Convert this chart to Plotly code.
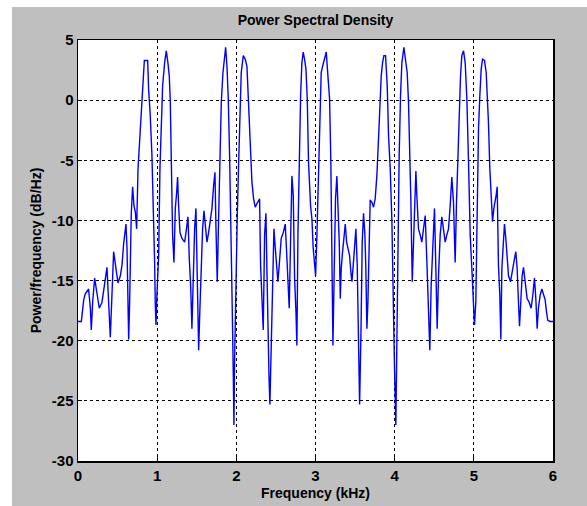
import plotly.graph_objects as go

freq_khz = [
    0.000, 0.042, 0.072, 0.092, 0.134, 0.156, 0.168, 0.185, 0.210, 0.240, 0.269, 0.303, 0.337, 0.366,
    0.387, 0.408, 0.429, 0.450, 0.480, 0.505, 0.535, 0.556, 0.577, 0.606, 0.619, 0.640, 0.652, 0.673,
    0.690, 0.707, 0.724, 0.741, 0.758, 0.774, 0.791, 0.808, 0.825, 0.838, 0.863, 0.880, 0.892, 0.913,
    0.934, 0.955, 0.968, 0.976, 0.985,
    0.997, 1.019, 1.035, 1.052, 1.069, 1.094, 1.115, 1.136, 1.153, 1.166, 1.178, 1.195, 1.212, 1.229,
    1.246, 1.258, 1.271, 1.288, 1.313, 1.347, 1.368, 1.389, 1.406, 1.423, 1.439, 1.456, 1.473, 1.490,
    1.507, 1.524, 1.540, 1.557, 1.574, 1.591, 1.608, 1.629, 1.650, 1.671, 1.692, 1.713, 1.730, 1.742,
    1.759, 1.776, 1.793, 1.810, 1.831, 1.848, 1.865, 1.882, 1.898, 1.915, 1.936, 1.949, 1.961, 1.970,
    1.978, 1.995, 2.012, 2.029,
    2.045, 2.062, 2.088, 2.113, 2.134, 2.155, 2.176, 2.197, 2.218, 2.239, 2.260, 2.281, 2.294, 2.306,
    2.323, 2.340, 2.357, 2.374, 2.386, 2.399, 2.412, 2.424, 2.441, 2.458, 2.475, 2.492, 2.508, 2.525,
    2.542, 2.567, 2.593, 2.618, 2.635, 2.652, 2.668, 2.685, 2.702, 2.719, 2.736, 2.753, 2.765, 2.778,
    2.795, 2.812, 2.828, 2.845, 2.862, 2.879, 2.896, 2.912, 2.938, 2.955, 2.971, 2.988, 3.001, 3.018,
    3.039,
    3.056, 3.072, 3.089, 3.115, 3.136, 3.157, 3.178, 3.194, 3.207, 3.220, 3.237, 3.253, 3.270, 3.283,
    3.300, 3.313, 3.325, 3.342, 3.359, 3.376, 3.393, 3.409, 3.430, 3.447, 3.460, 3.477, 3.494, 3.510,
    3.527, 3.544, 3.557, 3.574, 3.590, 3.607, 3.624, 3.636, 3.649, 3.662, 3.679, 3.691, 3.712, 3.733,
    3.754, 3.775, 3.796, 3.813, 3.830, 3.847, 3.864, 3.885, 3.906, 3.923, 3.944, 3.965, 3.981, 3.998,
    4.015, 4.028,
    4.040, 4.057, 4.074, 4.091, 4.116, 4.137, 4.158, 4.175, 4.192, 4.205, 4.222, 4.238, 4.255, 4.268,
    4.280, 4.301, 4.322, 4.343, 4.364, 4.386, 4.407, 4.428, 4.444, 4.461, 4.482, 4.503, 4.520, 4.537,
    4.554, 4.575, 4.596, 4.617, 4.638, 4.659, 4.680, 4.701, 4.722, 4.743, 4.764, 4.781, 4.798, 4.815,
    4.832, 4.848, 4.870, 4.891, 4.912, 4.933, 4.954, 4.975, 4.992, 5.008, 5.025,
    5.042, 5.059, 5.076, 5.093, 5.110, 5.135, 5.156, 5.173, 5.185, 5.202, 5.219, 5.236, 5.253, 5.269,
    5.282, 5.295, 5.311, 5.328, 5.341, 5.354, 5.370, 5.387, 5.404, 5.421, 5.438, 5.463, 5.488, 5.513,
    5.530, 5.547, 5.564, 5.577, 5.593, 5.610, 5.627, 5.648, 5.673, 5.699, 5.724, 5.745, 5.766, 5.783,
    5.800, 5.816, 5.838, 5.859, 5.880, 5.901, 5.918, 5.934, 5.964, 6.000,
]

psd_db = [
    -18.4, -18.4, -16.6, -16.1, -15.7, -17.3, -19.1, -16.8, -14.8, -16.1, -17.3, -16.8, -15.1, -13.9,
    -16.8, -19.7, -16.2, -12.6, -14.0, -15.2, -14.6, -13.7, -11.9, -10.3, -12.3, -19.9, -16.8, -9.4,
    -7.2, -8.8, -9.3, -10.7, -5.7, -3.8, -1.9, 0.1, 2.3, 3.3, 3.3, 3.3, 0.9, -1.3,
    -4.6, -9.3, -13.5, -16.9, -18.7,
    -16.2, -12.9, -5.7, -1.9, 1.2, 3.1, 4.1, 3.1, 2.0, -0.2, -5.2, -11.2, -13.5, -9.0,
    -7.7, -6.4, -8.8, -11.0, -11.5, -11.8, -10.8, -9.7, -13.2, -15.4, -19.0, -14.0, -10.7, -9.0,
    -14.0, -20.8, -17.3, -13.5, -10.7, -9.2, -10.7, -11.8, -11.0, -10.1, -9.0, -7.1, -6.0, -10.4,
    -15.1, -9.9, -4.6, -0.2, 2.3, 3.7, 4.4, 2.8, 0.1, -4.6, -11.2, -17.6, -22.6, -27.0,
    -21.7, -14.0, -9.6, -5.2,
    -0.2, 2.3, 3.7, 3.4, 2.8, -0.2, -3.8, -6.8, -8.2, -8.9, -8.6, -8.3, -8.2, -13.7,
    -17.3, -19.1, -11.2, -9.4, -14.0, -19.5, -22.8, -25.3, -19.5, -14.0, -10.7, -12.3, -14.0, -15.1,
    -13.7, -11.5, -11.0, -10.3, -12.6, -14.6, -17.3, -11.8, -6.3, -7.9, -14.8, -17.6, -20.4, -11.2,
    -4.3, 0.4, 3.1, 4.0, 3.4, 2.6, 0.1, -5.2, -8.8, -9.9, -12.3, -14.0, -14.6, -11.2,
    -5.7,
    -0.2, 2.3, 2.8, 3.4, 4.0, 2.0, 0.1, -5.2, -11.2, -20.4, -14.0, -8.2, -6.3, -8.2,
    -11.8, -16.5, -14.0, -12.6, -11.2, -10.3, -11.8, -12.3, -12.9, -14.3, -15.1, -13.7, -12.3, -10.7,
    -13.7, -22.8, -25.3, -19.5, -11.8, -9.4, -11.2, -14.0, -19.0, -16.8, -11.2, -8.3, -8.5, -8.9,
    -8.2, -6.3, -3.2, -0.2, 2.0, 3.1, 3.7, 3.7, 1.2, -3.0, -5.7, -10.1, -18.1, -22.3,
    -27.0, -19.5,
    -13.7, -4.6, 0.4, 3.1, 4.4, 3.4, 2.3, -0.2, -3.8, -8.5, -15.1, -11.2, -9.0, -5.9,
    -7.9, -10.7, -11.2, -11.8, -10.7, -9.6, -13.5, -16.8, -20.8, -15.4, -12.3, -9.0, -14.0, -19.0,
    -14.6, -11.2, -9.7, -11.0, -11.8, -11.2, -10.7, -8.8, -6.4, -8.5, -13.5, -8.5, -4.3, -0.7,
    2.0, 3.7, 4.1, 3.1, 0.1, -5.2, -11.2, -14.0, -17.3, -18.7, -16.8,
    -9.0, -2.4, 0.4, 2.6, 3.4, 3.3, 2.3, 0.4, -1.9, -5.7, -7.9, -10.1, -9.0, -8.5,
    -7.9, -7.2, -13.7, -16.2, -19.9, -14.0, -11.5, -10.3, -11.5, -13.5, -14.6, -15.1, -14.0, -13.2,
    -12.6, -14.0, -16.8, -18.8, -16.8, -14.6, -13.9, -15.1, -16.5, -16.8, -17.3, -16.2, -14.8, -16.5,
    -19.0, -17.3, -16.2, -15.7, -16.1, -16.6, -17.6, -18.3, -18.4, -18.4,
]

x_ticks = [0, 1, 2, 3, 4, 5, 6]
y_ticks = [5, 0, -5, -10, -15, -20, -25, -30]

title_text = "Power Spectral Density"
x_label = "Frequency (kHz)"
y_label = "Power/frequency (dB/Hz)"

FONT = "Liberation Sans Narrow, Liberation Sans, Arial, sans-serif"
GRAY = "#bfbfbf"

fig = go.Figure()
fig.add_trace(go.Scatter(
    x=freq_khz, y=psd_db, mode="lines",
    line=dict(color="#0000ff", width=1.4),
    hoverinfo="skip", showlegend=False,
))

axis_common = dict(
    showline=True, linecolor="black", linewidth=1.5, mirror=True,
    showgrid=True, gridcolor="black", gridwidth=1, griddash="3px,3px",
    zeroline=False, ticks="inside", ticklen=4, tickcolor="black",
    automargin=False,
    tickfont=dict(family=FONT, size=15, color="black", weight="bold"),
)

fig.update_layout(
    width=587, height=506,
    margin=dict(l=78, r=34, t=40, b=45, autoexpand=False),
    paper_bgcolor=GRAY, plot_bgcolor="white",
    title=dict(text=title_text, x=0.5, xref="paper", y=1 - 20 / 506, yref="container",
               xanchor="center", yanchor="middle", automargin=False,
               font=dict(family=FONT, size=14, color="black", weight="bold")),
    xaxis=dict(range=[0, 6], tickvals=x_ticks, ticktext=[str(v) for v in x_ticks],
               title=dict(text=x_label, standoff=5,
                          font=dict(family=FONT, size=14, color="black", weight="bold")),
               **axis_common),
    yaxis=dict(range=[-30, 5], tickvals=y_ticks, ticktext=[str(v) for v in y_ticks],
               title=dict(text=y_label, standoff=7,
                          font=dict(family=FONT, size=14, color="black", weight="bold")),
               **axis_common),
    shapes=[
        # white strips along the left and top edges of the window, as in the reference
        dict(type="rect", xref="paper", yref="paper", x0=-0.3, x1=-66 / 475, y0=-0.3, y1=1.3,
             fillcolor="white", line=dict(width=0), layer="below"),
        dict(type="rect", xref="paper", yref="paper", x0=-0.3, x1=1.3, y0=454 / 421, y1=1.3,
             fillcolor="white", line=dict(width=0), layer="below"),
    ],
)

fig.write_html(
    "out.html",
    config={"displayModeBar": False, "staticPlot": True},
    post_script="document.body.style.margin='0';document.body.style.overflow='hidden';",
)
